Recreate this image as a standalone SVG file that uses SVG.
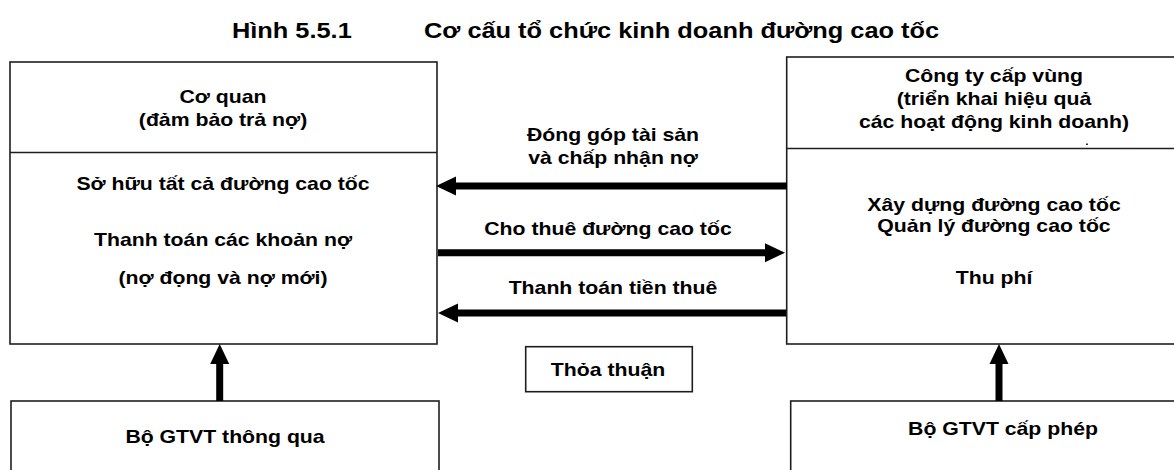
<svg xmlns="http://www.w3.org/2000/svg" width="1174" height="470" viewBox="0 0 1174 470">
  <defs>
    <style>
      .box { fill: #fff; stroke: #1e1e1e; stroke-width: 1.6; }
      .rule { stroke: #1e1e1e; stroke-width: 1.6; fill: none; }
      .lbl { font-family: "Liberation Sans", Arial, sans-serif; font-weight: bold; font-size: 18px; fill: #000; text-anchor: middle; }
      .ttl { font-family: "Liberation Sans", Arial, sans-serif; font-weight: bold; font-size: 21.5px; fill: #000; }
      .shaft { stroke: #000; stroke-width: 7; fill: none; marker-end: url(#head); }
    </style>
    <marker id="head" markerUnits="userSpaceOnUse" markerWidth="20" markerHeight="20" refX="0" refY="9.5" orient="auto" overflow="visible">
      <path d="M0,0 L20,9.5 L0,19 Z" fill="#000"/>
    </marker>
  </defs>
  <rect width="1174" height="470" fill="#fff"/>

  <!-- title -->
  <g id="title">
    <text class="ttl" transform="translate(232,38) scale(1.18,1)">Hình 5.5.1</text>
    <text class="ttl" transform="translate(424,38) scale(1.18,1)">Cơ cấu tổ chức kinh doanh đường cao tốc</text>
  </g>

  <!-- owning agency -->
  <g id="co-quan">
    <rect class="box" x="10" y="62" width="427" height="282"/>
    <line class="rule" x1="10" y1="152.5" x2="437" y2="152.5"/>
    <text class="lbl" transform="translate(223,103) scale(1.18,1)">Cơ quan</text>
    <text class="lbl" transform="translate(223,126) scale(1.18,1)">(đảm bảo trả nợ)</text>
    <text class="lbl" transform="translate(223,190) scale(1.18,1)">Sở hữu tất cả đường cao tốc</text>
    <text class="lbl" transform="translate(223,246) scale(1.18,1)">Thanh toán các khoản nợ</text>
    <text class="lbl" transform="translate(223,284) scale(1.18,1)">(nợ đọng và nợ mới)</text>
  </g>

  <!-- regional company -->
  <g id="cong-ty">
    <rect class="box" x="786.7" y="57" width="400" height="287"/>
    <line class="rule" x1="786.7" y1="148.5" x2="1180" y2="148.5"/>
    <rect x="1086" y="143.5" width="2" height="1.5" fill="#333"/>
    <text class="lbl" transform="translate(994,82) scale(1.18,1)">Công ty cấp vùng</text>
    <text class="lbl" transform="translate(994,105) scale(1.18,1)">(triển khai hiệu quả</text>
    <text class="lbl" transform="translate(994,128) scale(1.18,1)">các hoạt động kinh doanh)</text>
    <text class="lbl" transform="translate(994,211) scale(1.18,1)">Xây dựng đường cao tốc</text>
    <text class="lbl" transform="translate(994,232) scale(1.18,1)">Quản lý đường cao tốc</text>
    <text class="lbl" transform="translate(994,284) scale(1.18,1)">Thu phí</text>
  </g>

  <!-- agreement -->
  <g id="thoa-thuan">
    <rect class="box" x="525.7" y="346.7" width="166.6" height="45"/>
    <text class="lbl" transform="translate(608,376) scale(1.18,1)">Thỏa thuận</text>
  </g>

  <!-- ministry approval -->
  <g id="bo-thong-qua">
    <rect class="box" x="11" y="401" width="428" height="80"/>
    <text class="lbl" transform="translate(225,443) scale(1.18,1)">Bộ GTVT thông qua</text>
  </g>

  <!-- ministry licence -->
  <g id="bo-cap-phep">
    <rect class="box" x="790.7" y="401" width="400" height="80"/>
    <text class="lbl" transform="translate(1003,435) scale(1.18,1)">Bộ GTVT cấp phép</text>
  </g>

  <!-- connectors -->
  <g id="connectors">
    <line class="shaft" x1="787" y1="186" x2="456" y2="186"/>
    <line class="shaft" x1="438" y1="252.7" x2="765" y2="252.7"/>
    <line class="shaft" x1="786" y1="313" x2="458" y2="313"/>
    <line class="shaft" x1="219.7" y1="401" x2="219.7" y2="364"/>
    <line class="shaft" x1="999" y1="401" x2="999" y2="364"/>
    <text class="lbl" transform="translate(613,141) scale(1.18,1)">Đóng góp tài sản</text>
    <text class="lbl" transform="translate(613,164) scale(1.18,1)">và chấp nhận nợ</text>
    <text class="lbl" transform="translate(608,235) scale(1.18,1)">Cho thuê đường cao tốc</text>
    <text class="lbl" transform="translate(613,294) scale(1.18,1)">Thanh toán tiền thuê</text>
  </g>
</svg>
